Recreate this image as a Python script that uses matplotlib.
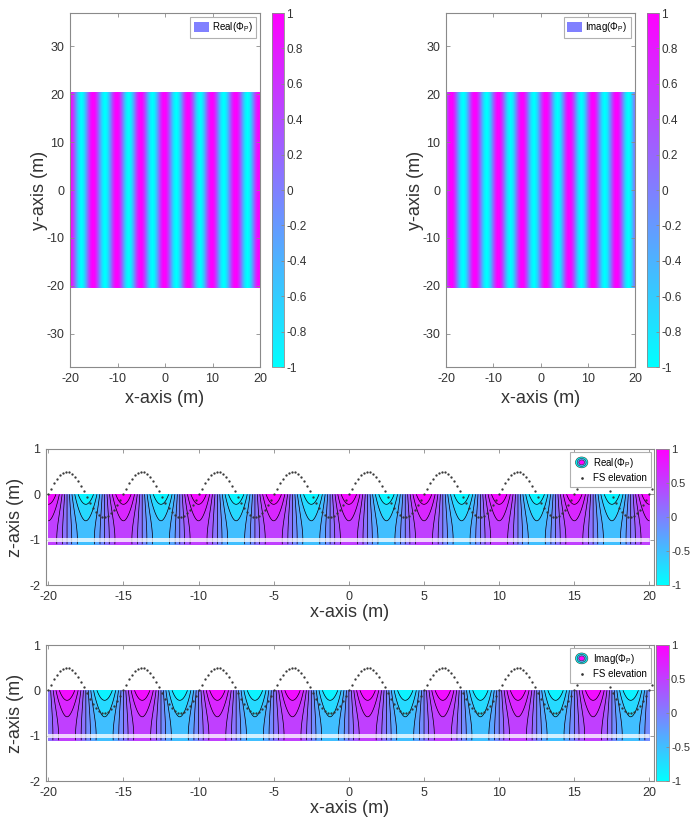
import numpy as np
import matplotlib
matplotlib.use("Agg")
import matplotlib.pyplot as plt
from matplotlib.patches import Ellipse, Patch
from matplotlib.legend_handler import HandlerBase
from matplotlib.cm import ScalarMappable
from matplotlib.colors import Normalize

plt.rcParams['font.family'] = ['Liberation Sans', 'DejaVu Sans']
plt.rcParams['mathtext.fontset'] = 'custom'
plt.rcParams['mathtext.rm'] = 'Liberation Sans'
plt.rcParams['axes.unicode_minus'] = False

# ---- wave / domain parameters ----
wavelength = 5.0          # m
water_depth = 1.0         # m
fs_amplitude = 0.5        # m, free-surface elevation amplitude
x_range = [-20.0, 20.0]
y_range = [-20.3, 20.3]
z_range = [-1.1, 0.0]
seabed_z = [-0.985, -1.035]
fs_spacing = 0.2          # sampling of the free-surface curve

fill_levels = [-1.0, -0.8, -0.6, -0.4, -0.2, 0.0, 0.2, 0.4, 0.6, 0.8, 1.0]
line_levels = [-0.8, -0.6, -0.4, -0.2, 0.0, 0.2, 0.4, 0.6, 0.8]
plan_cbar_ticks = [-1, -0.8, -0.6, -0.4, -0.2, 0, 0.2, 0.4, 0.6, 0.8, 1]
side_cbar_ticks = [-1, -0.5, 0, 0.5, 1]
plan_xticks = [-20, -10, 0, 10, 20]
plan_yticks = [-30, -20, -10, 0, 10, 20, 30]
side_xticks = [-20, -15, -10, -5, 0, 5, 10, 15, 20]
side_zticks = [-2, -1, 0, 1]
part_names = ['Real', 'Imag']

# ---- fields ----
k = 2 * np.pi / wavelength
x = np.linspace(x_range[0], x_range[1], 801)
y = np.array(y_range)
z = np.linspace(z_range[0], z_range[1], 221)
X, Zg = np.meshgrid(x, z)
depth_factor = np.cosh(k * (Zg + water_depth)) / np.cosh(k * water_depth)
side_fields = [np.cos(k * X) * depth_factor, np.sin(k * X) * depth_factor]
plan_fields = [np.tile(np.cos(k * x), (2, 1)), np.tile(np.sin(k * x), (2, 1))]
fs_x = np.arange(x_range[0], 20.3, fs_spacing)
fs_eta = fs_amplitude * np.sin(k * fs_x)

cmap = plt.get_cmap('cool')
edge = '#8a8a8a'
txt = '#333333'

fig = plt.figure(figsize=(6.91, 8.23), dpi=100)
W, H = 691.0, 823.0


def add_ax(l, r, t, b):
    return fig.add_axes([l / W, 1 - b / H, (r - l) / W, (b - t) / H])


def style(ax, fs=9):
    for s in ax.spines.values():
        s.set_color(edge)
        s.set_linewidth(0.8)
    ax.tick_params(direction='in', top=True, right=True, length=3,
                   width=0.6, color=edge, labelsize=fs, labelcolor=txt, pad=4)


def fmt(v):
    return '%g' % v


def add_cbar(l, r, t, b, ticks, fs):
    cax = add_ax(l, r, t, b)
    cb = fig.colorbar(ScalarMappable(norm=Normalize(-1, 1), cmap=cmap), cax=cax)
    cb.set_ticks(ticks, labels=[fmt(v) for v in ticks])
    cb.minorticks_off()
    cb.outline.set_edgecolor(edge)
    cb.outline.set_linewidth(0.6)
    cb.ax.tick_params(direction='in', length=2.5, width=0.6, color=edge,
                      labelsize=fs, labelcolor=txt, pad=1.5)
    return cb


class ContourKey:
    pass


class ContourIcon(HandlerBase):
    def create_artists(self, legend, orig_handle, xdescent, ydescent,
                       width, height, fontsize, trans):
        cx = width / 2 - xdescent
        cy = height / 2 - ydescent
        arts = []
        for sc, col in [(1.0, (0.0, 1.0, 1.0)), (0.72, (0.35, 0.65, 1.0)),
                        (0.45, (1.0, 0.0, 1.0))]:
            e = Ellipse((cx, cy), width * 0.8 * sc, height * 1.6 * sc,
                        facecolor=col, edgecolor='#333333', lw=0.4,
                        transform=trans)
            arts.append(e)
        return arts


# ---- plan views ----
plan_boxes = [(70, 260, 13, 367, 272), (446, 635, 13, 367, 647)]
for i, (l, r, t, b, cl) in enumerate(plan_boxes):
    ax = add_ax(l, r, t, b)
    ax.pcolormesh(x, y, plan_fields[i], cmap=cmap, norm=Normalize(-1, 1),
                  shading='gouraud')
    ax.set_xlim(-20, 20)
    ax.set_ylim(-37, 37)
    ax.set_xticks(plan_xticks)
    ax.set_xticklabels([fmt(v) for v in plan_xticks])
    ax.set_yticks(plan_yticks)
    ax.set_yticklabels([fmt(v) for v in plan_yticks])
    style(ax)
    ax.set_xlabel('x-axis (m)', fontsize=13, color=txt)
    ax.set_ylabel('y-axis (m)', fontsize=13, color=txt)
    ax.xaxis.set_label_coords(0.5, -23 / (b - t))
    ax.yaxis.set_label_coords(-22 / (r - l), 0.5)
    leg = ax.legend([Patch(facecolor=(0.5, 0.5, 1.0), edgecolor='none')],
                    [part_names[i] + r'($\Phi_{\mathrm{P}}$)'],
                    loc='upper right', fontsize=7, frameon=True, fancybox=False,
                    framealpha=1, edgecolor='#b0b0b0', handlelength=1.6,
                    handleheight=1.1, handletextpad=0.3, borderpad=0.35,
                    borderaxespad=0.4)
    leg.get_frame().set_linewidth(0.8)
    add_cbar(cl, cl + 12, t, b, plan_cbar_ticks, 8.5)

# ---- vertical sections ----
side_boxes = [(46, 654, 449, 585), (46, 654, 645, 781)]
for i, (l, r, t, b) in enumerate(side_boxes):
    ax = add_ax(l, r, t, b)
    ax.contourf(X, Zg, side_fields[i], levels=fill_levels, cmap=cmap,
                norm=Normalize(-1, 1), antialiased=False)
    ax.contour(X, Zg, side_fields[i], levels=line_levels, colors='k',
               linewidths=0.5, linestyles='solid')
    for zz in seabed_z:
        ax.plot(x_range, [zz, zz], color='white', lw=1.1)
    dots, = ax.plot(fs_x, fs_eta, ls='none', marker='.', ms=1.3,
                    color='#333333')
    ax.set_xlim(-20.15, 20.3)
    ax.set_ylim(-2, 1)
    ax.set_xticks(side_xticks)
    ax.set_xticklabels([fmt(v) for v in side_xticks])
    ax.set_yticks(side_zticks)
    ax.set_yticklabels([fmt(v) for v in side_zticks])
    style(ax)
    ax.set_xlabel('x-axis (m)', fontsize=13, color=txt)
    ax.set_ylabel('z-axis (m)', fontsize=13, color=txt)
    ax.xaxis.set_label_coords(0.5, -19 / (b - t))
    ax.yaxis.set_label_coords(-22 / (r - l), 0.5)
    leg = ax.legend([ContourKey(), dots],
                    [part_names[i] + r'($\Phi_{\mathrm{P}}$)', 'FS elevation'],
                    handler_map={ContourKey: ContourIcon()},
                    loc='upper right', fontsize=7, frameon=True, fancybox=False,
                    framealpha=1, edgecolor='#b0b0b0', handlelength=1.6,
                    handletextpad=0.4, borderpad=0.35, labelspacing=0.35,
                    borderaxespad=0.35, markerscale=1.4)
    leg.get_frame().set_linewidth(0.8)
    add_cbar(656, 669, t, b, side_cbar_ticks, 8)

fig.savefig('out.png', dpi=100)
